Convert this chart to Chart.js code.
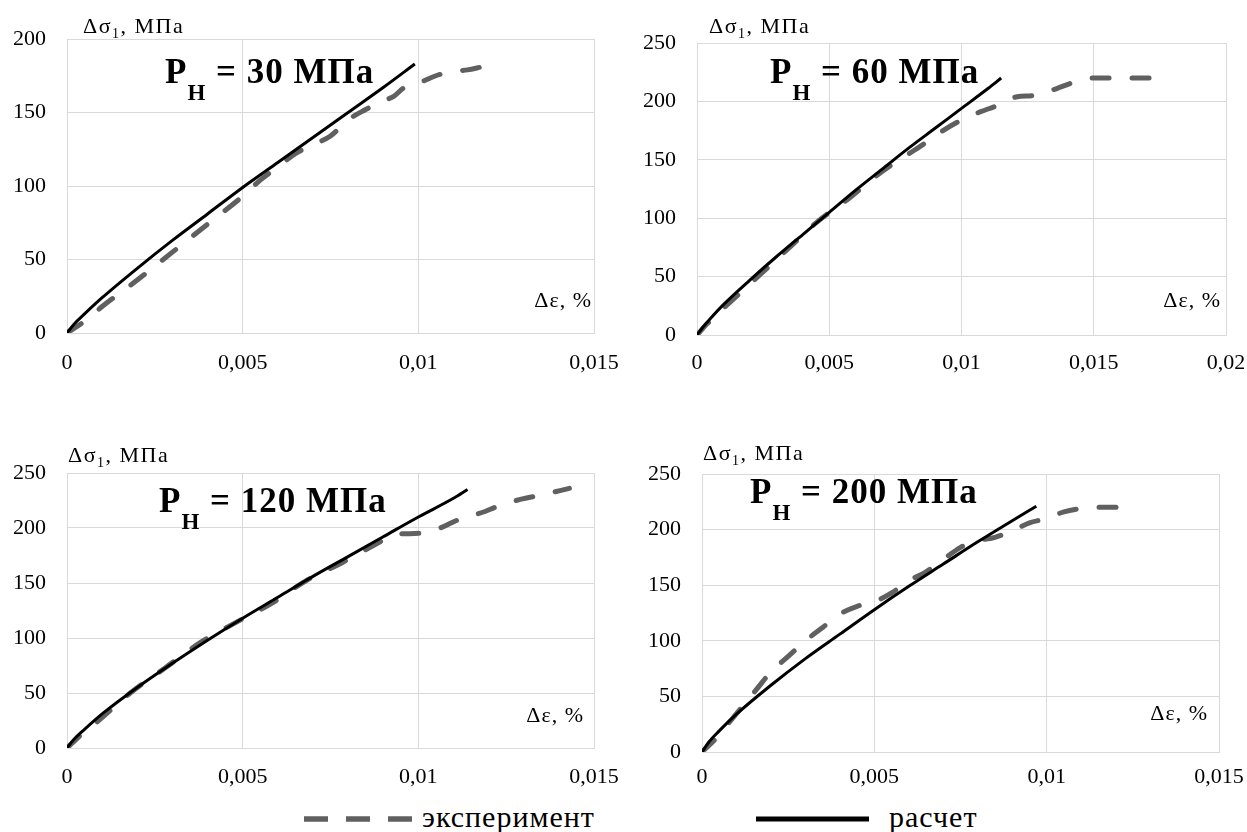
<!DOCTYPE html>
<html>
<head>
<meta charset="utf-8">
<script src="https://cdn.jsdelivr.net/npm/chart.js@4.4.1/dist/chart.umd.min.js"></script>
<style>
  body { margin: 0; background: #fff; width: 1247px; height: 832px; position: relative; overflow: hidden;
         font-family: 'Liberation Serif', 'Times New Roman', serif; }
  .panel { position: absolute; }
  .leg-text { position: absolute; font-size: 30px; line-height: 30px; letter-spacing: 1px; color: #000; white-space: nowrap; }
  .leg-line { position: absolute; }
</style>
</head>
<body>
<div class="panel" style="left:0;top:0;width:620px;height:400px"><canvas id="chart30"></canvas></div>
<div class="panel" style="left:625px;top:0;width:622px;height:400px"><canvas id="chart60"></canvas></div>
<div class="panel" style="left:0;top:420px;width:620px;height:380px"><canvas id="chart120"></canvas></div>
<div class="panel" style="left:625px;top:420px;width:622px;height:380px"><canvas id="chart200"></canvas></div>

<svg class="leg-line" style="left:300px;top:812px" width="120" height="14">
  <line x1="4" y1="7" x2="112" y2="7" stroke="#606060" stroke-width="5.5" stroke-dasharray="24 18"/>
</svg>
<span class="leg-text" style="left:422px;top:802px">эксперимент</span>
<svg class="leg-line" style="left:752px;top:812px" width="122" height="14">
  <line x1="4" y1="7" x2="117" y2="7" stroke="#000" stroke-width="5"/>
</svg>
<span class="leg-text" style="left:889px;top:802px">расчет</span>

<script>
// pressures, MPa
const pressures = [30, 60, 120, 200];
const seriesNames = ['эксперимент', 'расчет'];

// P = 30 MPa
const strainExp30 = [0, 0.0005, 0.001, 0.002, 0.003, 0.004, 0.005, 0.0055, 0.006, 0.0065, 0.007, 0.0075, 0.008, 0.0085, 0.009, 0.0093, 0.0096, 0.0101, 0.0105, 0.011, 0.0114, 0.0118];
const stressExp30 = [0, 8, 18, 36, 55, 74, 93, 104, 113, 122, 128, 134, 145, 152, 158, 161, 167, 171, 175, 178, 179, 181];
const strainCalc30 = [0, 0.0002, 0.0005, 0.001, 0.002, 0.003, 0.004, 0.005, 0.006, 0.007, 0.008, 0.009, 0.0099];
const stressCalc30 = [0, 6, 13, 24, 44, 63, 81, 99, 116, 133, 150, 167, 183];

// P = 60 MPa
const strainExp60 = [0, 0.0004, 0.0012, 0.0024, 0.0035, 0.0045, 0.0058, 0.007, 0.008, 0.0086, 0.0093, 0.01, 0.0107, 0.0113, 0.0121, 0.0127, 0.0136, 0.0142, 0.015, 0.016, 0.0172];
const stressExp60 = [0, 10, 27, 52, 75, 96, 118, 140, 155, 164, 175, 184, 191, 196, 204, 205, 211, 216, 220, 220, 220];
const strainCalc60 = [0, 0.0002, 0.0005, 0.001, 0.002, 0.003, 0.004, 0.005, 0.006, 0.007, 0.008, 0.009, 0.01, 0.011, 0.0115];
const stressCalc60 = [0, 6, 14, 26, 47, 67, 86, 105, 124, 142, 160, 177, 194, 211, 220];

// P = 120 MPa
const strainExp120 = [0, 0.0004, 0.0009, 0.0018, 0.0028, 0.0038, 0.0048, 0.0058, 0.0068, 0.0078, 0.0086, 0.009, 0.0093, 0.0099, 0.0102, 0.0107, 0.0111, 0.0119, 0.0122, 0.0129, 0.0135, 0.0143];
const stressExp120 = [0, 12, 25, 50, 73, 96, 114, 131, 152, 168, 182, 189, 194, 195, 196, 201, 207, 215, 219, 226, 230, 236];
const strainCalc120 = [0, 0.0002, 0.0005, 0.001, 0.002, 0.003, 0.004, 0.005, 0.006, 0.007, 0.008, 0.009, 0.01, 0.011, 0.0114];
const stressCalc120 = [0, 8, 17, 31, 55, 77, 98, 118, 137, 156, 174, 192, 210, 227, 235];

// P = 200 MPa
const strainExp200 = [0, 0.0004, 0.0008, 0.0012, 0.0016, 0.002, 0.0025, 0.003, 0.0035, 0.004, 0.0045, 0.005, 0.0055, 0.006, 0.0065, 0.007, 0.0075, 0.008, 0.0085, 0.009, 0.0095, 0.01, 0.0105, 0.011, 0.0115, 0.0121];
const stressExp200 = [0, 12, 27, 42, 57, 72, 86, 100, 112, 124, 131, 135, 143, 154, 162, 173, 184, 190, 193, 199, 206, 210, 216, 219, 220, 220];
const strainCalc200 = [0, 0.0002, 0.0005, 0.001, 0.002, 0.003, 0.004, 0.005, 0.006, 0.007, 0.008, 0.009, 0.0097];
const stressCalc200 = [0, 9, 19, 34, 60, 84, 106, 128, 149, 169, 189, 208, 221];

// axis ranges per panel
const strainMax = [0.015, 0.02, 0.015, 0.015];
const stressMax = [200, 250, 250, 250];
const strainStep = 0.005;
const stressStep = 50;

// layout of each panel (page pixels)
const panels = [
  { id: 'chart30',  box: [0, 0],     area: [67, 39, 594, 333],   w: 620, h: 400,
    title: [165, 83], yTitle: [83, 33], xTitle: [592, 307], tickPad: 17,
    exp: [strainExp30, stressExp30], calc: [strainCalc30, stressCalc30] },
  { id: 'chart60',  box: [625, 0],   area: [697, 43, 1226, 335], w: 622, h: 400,
    title: [770, 83], yTitle: [709, 33], xTitle: [1221, 307], tickPad: 15,
    exp: [strainExp60, stressExp60], calc: [strainCalc60, stressCalc60] },
  { id: 'chart120', box: [0, 420],   area: [67, 473, 594, 748],  w: 620, h: 380,
    title: [159, 512], yTitle: [68, 462], xTitle: [584, 722], tickPad: 16,
    exp: [strainExp120, stressExp120], calc: [strainCalc120, stressCalc120] },
  { id: 'chart200', box: [625, 420], area: [702, 474, 1219, 752], w: 622, h: 380,
    title: [750, 503], yTitle: [703, 460], xTitle: [1208, 720], tickPad: 12,
    exp: [strainExp200, stressExp200], calc: [strainCalc200, stressCalc200] }
];

const FONT = "'Liberation Serif', 'Times New Roman', serif";

function toPoints(xs, ys) {
  return xs.map((x, i) => ({ x: x, y: ys[i] }));
}

function formatTick(value) {
  return String(+value.toFixed(3)).replace('.', ',');
}

function drawRuns(ctx, x, y, runs) {
  runs.forEach(run => {
    ctx.font = run.font;
    ctx.fillText(run.text, x, y + (run.dy || 0));
    x += ctx.measureText(run.text).width;
  });
}

const labelsPlugin = {
  id: 'panelLabels',
  afterDraw(chart, args, opts) {
    const ctx = chart.ctx;
    const ox = opts.box[0], oy = opts.box[1];
    ctx.save();
    ctx.fillStyle = '#000';
    ctx.textAlign = 'left';
    ctx.textBaseline = 'alphabetic';

    // P_H = .. МПа
    ctx.letterSpacing = '1px';
    drawRuns(ctx, opts.title[0] - ox, opts.title[1] - oy, [
      { text: 'P', font: 'bold 35px ' + FONT },
      { text: 'H', font: 'bold 23px ' + FONT, dy: 17 },
      { text: ' = ' + opts.pressure + ' МПа', font: 'bold 35px ' + FONT }
    ]);

    // Δσ1, МПа
    ctx.letterSpacing = '1.5px';
    drawRuns(ctx, opts.yTitle[0] - ox, opts.yTitle[1] - oy, [
      { text: 'Δσ', font: '22px ' + FONT },
      { text: '1', font: '14px ' + FONT, dy: 5 },
      { text: ', МПа', font: '22px ' + FONT }
    ]);

    // Δε, %
    ctx.letterSpacing = '1px';
    ctx.font = '22px ' + FONT;
    ctx.textAlign = 'right';
    ctx.fillText('Δε, %', opts.xTitle[0] - ox, opts.xTitle[1] - oy);
    ctx.restore();
  }
};

panels.forEach((p, i) => {
  const ox = p.box[0], oy = p.box[1];
  const left = p.area[0] - ox, top = p.area[1] - oy;
  const right = p.w - (p.area[2] - ox), bottom = p.h - (p.area[3] - oy);

  new Chart(document.getElementById(p.id), {
    type: 'scatter',
    data: {
      datasets: [
        {
          label: seriesNames[1],
          data: toPoints(p.calc[0], p.calc[1]),
          showLine: true,
          borderColor: '#000',
          borderWidth: 3,
          pointRadius: 0,
          cubicInterpolationMode: 'monotone',
          order: 0
        },
        {
          label: seriesNames[0],
          data: toPoints(p.exp[0], p.exp[1]),
          showLine: true,
          borderColor: '#606060',
          borderWidth: 5,
          borderDash: [17, 23],
          borderCapStyle: 'round',
          pointRadius: 0,
          cubicInterpolationMode: 'monotone',
          order: 1
        }
      ]
    },
    options: {
      responsive: true,
      maintainAspectRatio: false,
      animation: false,
      events: [],
      layout: { padding: { left: 0, top: top, right: right, bottom: 0 } },
      plugins: {
        legend: { display: false },
        tooltip: { enabled: false },
        panelLabels: { box: p.box, title: p.title, yTitle: p.yTitle, xTitle: p.xTitle, pressure: pressures[i] }
      },
      scales: {
        x: {
          type: 'linear',
          min: 0,
          max: strainMax[i],
          afterFit: scale => {
            scale.height = bottom;
            scale.paddingLeft = 0;
            scale.paddingRight = 0;
          },
          ticks: {
            stepSize: strainStep,
            padding: p.tickPad,
            color: '#000',
            font: { family: FONT, size: 22 },
            maxRotation: 0,
            callback: formatTick
          },
          grid: { color: '#d9d9d9', lineWidth: 1, drawTicks: false },
          border: { display: true, color: '#d9d9d9' }
        },
        y: {
          type: 'linear',
          min: 0,
          max: stressMax[i],
          afterFit: scale => {
            scale.width = left;
            scale.paddingTop = 0;
            scale.paddingBottom = 0;
          },
          ticks: {
            stepSize: stressStep,
            padding: 21,
            color: '#000',
            font: { family: FONT, size: 22 }
          },
          grid: { color: '#d9d9d9', lineWidth: 1, drawTicks: false },
          border: { display: true, color: '#d9d9d9' }
        }
      }
    },
    plugins: [labelsPlugin]
  });
});
</script>
</body>
</html>
